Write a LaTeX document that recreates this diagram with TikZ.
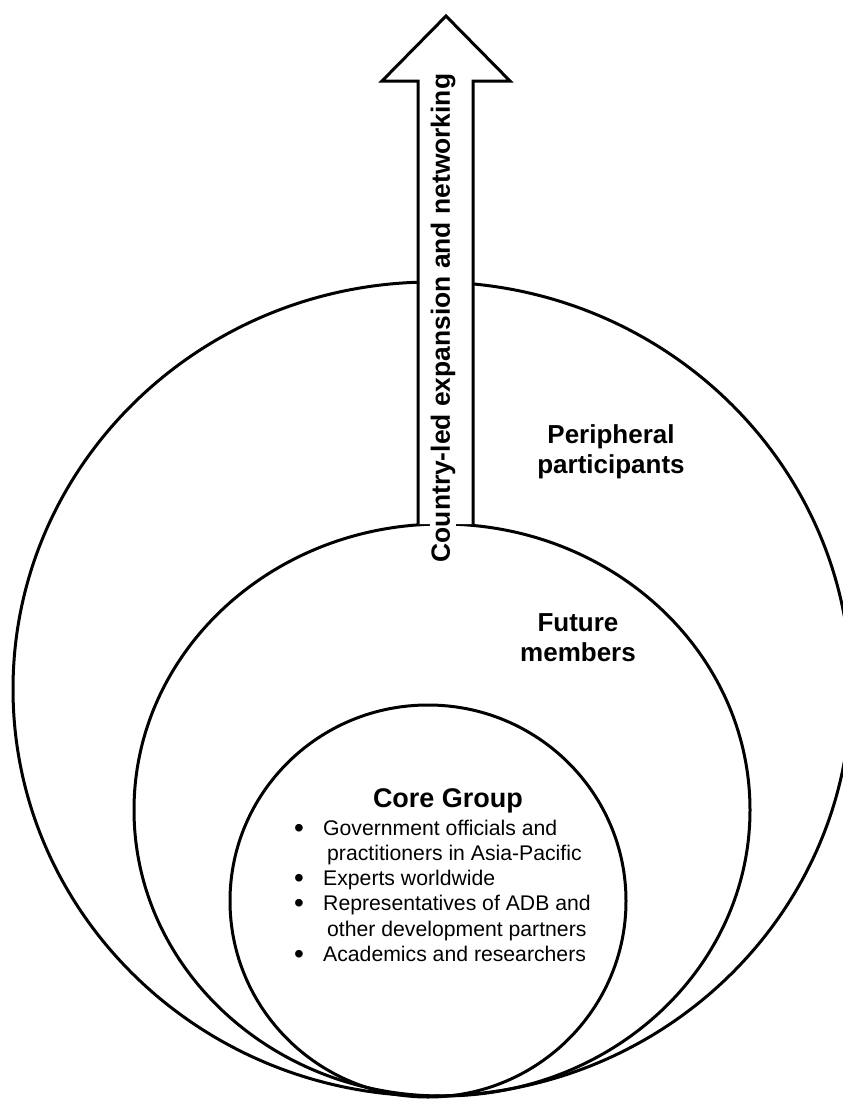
\documentclass[tikz,border=0pt]{standalone}
\usepackage{fontspec}
\setmainfont{Liberation Sans}
\usepackage{array}
\newcommand{\listdot}{\raisebox{-2pt}{\fontsize{28}{25}\selectfont\textbullet}}
\begin{document}
\begin{tikzpicture}[x=1pt,y=-1pt,
  ring/.style={draw=black,line width=3pt},
  arrowline/.style={draw=black,line width=3pt,line join=miter},
  zonelabel/.style={font=\fontsize{26}{30}\selectfont\bfseries,align=center,inner sep=0pt},
  titlelabel/.style={font=\fontsize{27}{30}\selectfont\bfseries,inner sep=0pt},
  listtext/.style={font=\fontsize{21.2}{25.3}\selectfont,inner sep=0pt},
  arrowlabel/.style={font=\fontsize{26.4}{30}\selectfont\bfseries,rotate=90,fill=white,inner xsep=0pt,inner ysep=1pt}]
\useasboundingbox (0,0) rectangle (843,1100);
\fill[white] (0,0) rectangle (843,1100);

% three nested rings touching at the bottom
\coordinate (outerc) at (432,689);
\coordinate (midc) at (442,810);
\coordinate (innerc) at (428,901);
\draw[ring] (outerc) ellipse [x radius=419pt, y radius=407pt];
\draw[ring] (midc) ellipse [x radius=308pt, y radius=286pt];
\draw[ring] (innerc) ellipse [x radius=198pt, y radius=196pt];

% upward arrow, open at the foot
\coordinate (sl) at (418,524);
\coordinate (hl1) at (418,81);
\coordinate (hl2) at (382,81);
\coordinate (tip) at (446,16);
\coordinate (hr2) at (510,81);
\coordinate (hr1) at (473,81);
\coordinate (sr) at (473,524);
\fill[white] (sl) -- (hl1) -- (hl2) -- (tip) -- (hr2) -- (hr1) -- (sr) -- cycle;
\draw[arrowline] (sl) -- (hl1) -- (hl2) -- (tip) -- (hr2) -- (hr1) -- (sr);
\node[arrowlabel] (growth) at (443,318) {Country-led expansion and networking};

% ring labels
\node[zonelabel] (periph) at (611,452) {Peripheral\\participants};
\node[zonelabel] (future) at (578,638) {Future\\members};
\node[titlelabel,anchor=base] (core) at (448,807) {Core Group};
\node[listtext,anchor=base west] (members) at (294,835) {%
  \begin{tabular}[t]{@{}p{29pt}@{}l@{}}
  \listdot & Government officials and\\
   & \hspace{4pt}practitioners in Asia-Pacific\\
  \listdot & Experts worldwide\\
  \listdot & Representatives of ADB and\\
   & \hspace{4pt}other development partners\\
  \listdot & Academics and researchers
  \end{tabular}};
\end{tikzpicture}
\end{document}
